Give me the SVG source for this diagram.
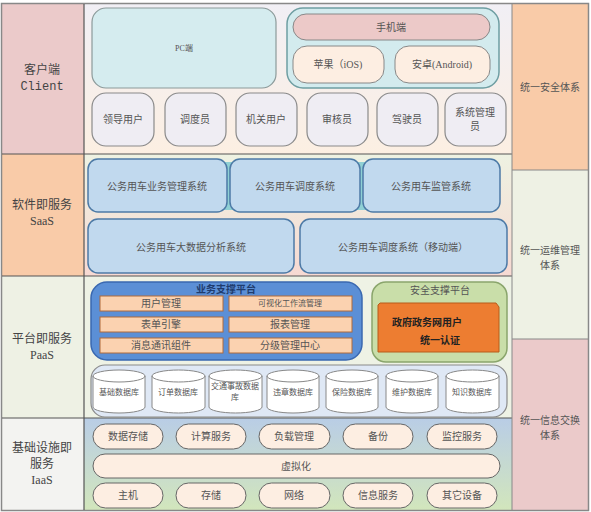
<svg xmlns="http://www.w3.org/2000/svg" width="591" height="512" viewBox="0 0 591 512">
<defs>
<linearGradient id="gClient" x1="0" y1="0" x2="0" y2="1"><stop offset="0" stop-color="#f1eff5"/><stop offset="1" stop-color="#fcefe2"/></linearGradient>
<linearGradient id="gSaas" x1="0" y1="0" x2="0" y2="1"><stop offset="0" stop-color="#eef2e2"/><stop offset="1" stop-color="#f7d9d2"/></linearGradient>
<linearGradient id="gIaas" x1="0" y1="0" x2="0" y2="1"><stop offset="0" stop-color="#b9cde6"/><stop offset="1" stop-color="#d2e6bc"/></linearGradient>
<style>
text{font-family:"Liberation Serif","Noto Sans CJK SC",serif;fill:#555;text-anchor:middle;dominant-baseline:central}
.sans{font-family:"Noto Sans CJK SC","Liberation Sans",sans-serif}
.lab{font-size:12px;fill:#444}
.sm{font-size:10px}
.xs{font-size:8px}
.user{fill:#efedf3;stroke:#8a8a8a;stroke-width:1.2}
.saas{fill:#c1d9ee;stroke:#4d7aa6;stroke-width:1.5}
.org{fill:#fbd2b0;stroke:#b06a3a;stroke-width:1}
.cyl{fill:#fff;stroke:#888;stroke-width:1}
.pill{fill:#fdeee2;stroke:#666;stroke-width:1}
.sep{stroke:#555;stroke-width:1.2}
</style>
</defs>
<!-- backgrounds -->
<rect x="0" y="0" width="591" height="512" fill="#fff"/>
<g id="left-col">
<rect x="2" y="4" width="82" height="150" fill="#ebcaca"/>
<rect x="2" y="154" width="82" height="122" fill="#f9cba8"/>
<rect x="2" y="276" width="82" height="142" fill="#eef1e4"/>
<rect x="2" y="418" width="82" height="92" fill="#f3f3f1"/>
<text class="lab" x="42" y="70">客户端</text>
<text class="lab" x="42" y="87" style="font-family:'Liberation Mono','Noto Sans CJK SC',monospace">Client</text>
<text class="lab" x="42" y="205">软件即服务</text>
<text class="lab" x="42" y="221">SaaS</text>
<text class="lab" x="42" y="339">平台即服务</text>
<text class="lab" x="42" y="355">PaaS</text>
<text class="lab" x="42" y="448">基础设施即</text>
<text class="lab" x="42" y="464">服务</text>
<text class="lab" x="42" y="480">IaaS</text>
</g>
<rect x="84" y="4" width="428" height="150" fill="url(#gClient)"/>
<rect x="84" y="154" width="428" height="122" fill="url(#gSaas)"/>
<rect x="84" y="276" width="428" height="142" fill="#eef2e5"/>
<rect x="84" y="418" width="428" height="92" fill="url(#gIaas)"/>
<g id="right-col">
<rect x="512" y="4" width="76" height="166" fill="#f9cba8"/>
<rect x="512" y="170" width="76" height="169" fill="#eef1e4"/>
<rect x="512" y="339" width="76" height="171" fill="#ebcaca"/>
<text class="sm" x="550" y="87">统一安全体系</text>
<text class="sm" x="550" y="250">统一运维管理</text>
<text class="sm" x="550" y="265">体系</text>
<text class="sm" x="550" y="420">统一信息交换</text>
<text class="sm" x="550" y="435">体系</text>
</g>
<!-- grid lines -->
<g id="grid" fill="none">
<rect x="1.5" y="3.5" width="587" height="507" stroke="#888" stroke-width="1.5"/>
<line class="sep" x1="2" y1="154" x2="512" y2="154"/>
<line class="sep" x1="2" y1="276" x2="512" y2="276"/>
<line class="sep" x1="2" y1="418" x2="512" y2="418"/>
<line class="sep" x1="84" y1="4" x2="84" y2="510"/>
<line x1="512" y1="4" x2="512" y2="510" stroke="#888" stroke-width="1"/>
<line x1="512" y1="170" x2="588" y2="170" stroke="#888" stroke-width="1"/>
<line x1="512" y1="339" x2="588" y2="339" stroke="#888" stroke-width="1"/>
</g>
<!-- client -->
<g id="pc"><rect x="92" y="8" width="184" height="80" rx="14" fill="#d5ecef" stroke="#8c9a9a" stroke-width="1.2"/><text class="xs" x="184" y="48">PC端</text></g>
<g id="mobile">
<rect x="287" y="8" width="212" height="80" rx="16" fill="#d3ebee" stroke="#6e9ea2" stroke-width="1.5"/>
<rect x="293" y="14" width="197" height="26" rx="13" fill="#ecc9c8" stroke="#888" stroke-width="1"/>
<text class="sm" x="391" y="27">手机端</text>
<rect x="293" y="46" width="91" height="37" rx="14" fill="#fdeee2" stroke="#888" stroke-width="1"/>
<text class="sm" x="338" y="64">苹果（iOS)</text>
<rect x="395" y="46" width="95" height="37" rx="14" fill="#fdeee2" stroke="#888" stroke-width="1"/>
<text class="sm" x="442" y="64">安卓(Android)</text>
</g>
<g id="users">
<rect class="user" x="92" y="93" width="62" height="53" rx="14"/><text class="sm" x="123" y="119">领导用户</text>
<rect class="user" x="165" y="93" width="61" height="53" rx="14"/><text class="sm" x="195" y="119">调度员</text>
<rect class="user" x="236" y="93" width="61" height="53" rx="14"/><text class="sm" x="266" y="119">机关用户</text>
<rect class="user" x="307" y="93" width="61" height="53" rx="14"/><text class="sm" x="337" y="119">审核员</text>
<rect class="user" x="377" y="93" width="61" height="53" rx="14"/><text class="sm" x="407" y="119">驾驶员</text>
<rect class="user" x="445" y="93" width="61" height="53" rx="14"/><text class="sm" x="475" y="112">系统管理</text><text class="sm" x="475" y="126">员</text>
</g>
<!-- saas -->
<g id="saas" class="sans">
<rect x="222" y="162" width="12" height="48" fill="#8fd0d4"/>
<rect x="356" y="162" width="12" height="48" fill="#8fd0d4"/>
<rect class="saas" x="88" y="159" width="139" height="53" rx="10"/><text class="sans sm" x="157" y="185">公务用车业务管理系统</text>
<rect class="saas" x="230" y="159" width="130" height="53" rx="10"/><text class="sans sm" x="295" y="185">公务用车调度系统</text>
<rect class="saas" x="363" y="159" width="137" height="53" rx="10"/><text class="sans sm" x="431" y="185">公务用车监管系统</text>
<rect class="saas" x="88" y="219" width="206" height="54" rx="10"/><text class="sans sm" x="191" y="246">公务用车大数据分析系统</text>
<rect class="saas" x="300" y="219" width="207" height="54" rx="10"/><text class="sans sm" x="403" y="246">公务用车调度系统（移动端）</text>
</g>
<!-- paas -->
<g id="biz-platform">
<rect x="91" y="282" width="271" height="78" rx="16" fill="#5b8fd6" stroke="#3a68b0" stroke-width="1.5"/>
<text class="sm" x="226" y="289" style="fill:#1f3c6e;font-weight:bold">业务支撑平台</text>
<rect class="org" x="100" y="296" width="123" height="15"/><text class="sm" x="161" y="303.5">用户管理</text>
<rect class="org" x="229" y="296" width="123" height="15"/><text class="xs" x="290" y="303.5">可视化工作流管理</text>
<rect class="org" x="100" y="317" width="123" height="15"/><text class="sm" x="161" y="324.5">表单引擎</text>
<rect class="org" x="229" y="317" width="123" height="15"/><text class="sm" x="290" y="324.5">报表管理</text>
<rect class="org" x="100" y="338" width="123" height="15"/><text class="sm" x="161" y="345.5">消息通讯组件</text>
<rect class="org" x="229" y="338" width="123" height="15"/><text class="sm" x="290" y="345.5">分级管理中心</text>
</g>
<g id="sec-platform">
<rect x="372" y="282" width="135" height="80" rx="14" fill="#c9dea9" stroke="#8aa56c" stroke-width="1.5"/>
<text class="sm" x="440" y="290">安全支撑平台</text>
<path d="M380 303 H496 L499 307 V352 H378 V305 Z" fill="#ed7d31" stroke="#b85c1a" stroke-width="1"/>
<text class="sm" x="427" y="322" style="fill:#222;font-weight:bold">政府政务网用户</text>
<text class="sm" x="440" y="340" style="fill:#222;font-weight:bold">统一认证</text>
</g>
<g id="databases">
<rect x="91" y="365" width="416" height="52" rx="14" fill="#dfe8f5" stroke="#8a8a8a" stroke-width="1.2"/>
<g class="cyl-set">
<path class="cyl" d="M93 376 V407 A26 6 0 0 0 145 407 V376 A26 6 0 0 0 93 376 A26 6 0 0 0 145 376"/><text class="xs" x="119" y="392">基础数据库</text>
<path class="cyl" d="M152 376 V407 A26.5 6 0 0 0 205 407 V376 A26.5 6 0 0 0 152 376 A26.5 6 0 0 0 205 376"/><text class="xs" x="178" y="392">订单数据库</text>
<path class="cyl" d="M209 376 V407 A26.5 6 0 0 0 262 407 V376 A26.5 6 0 0 0 209 376 A26.5 6 0 0 0 262 376"/><text class="xs" x="235" y="386">交通事故数据</text><text class="xs" x="235" y="397">库</text>
<path class="cyl" d="M267 376 V407 A26 6 0 0 0 319 407 V376 A26 6 0 0 0 267 376 A26 6 0 0 0 319 376"/><text class="xs" x="293" y="392">违章数据库</text>
<path class="cyl" d="M326 376 V407 A26 6 0 0 0 378 407 V376 A26 6 0 0 0 326 376 A26 6 0 0 0 378 376"/><text class="xs" x="352" y="392">保险数据库</text>
<path class="cyl" d="M386 376 V407 A26 6 0 0 0 438 407 V376 A26 6 0 0 0 386 376 A26 6 0 0 0 438 376"/><text class="xs" x="412" y="392">维护数据库</text>
<path class="cyl" d="M446 376 V407 A26.5 6 0 0 0 499 407 V376 A26.5 6 0 0 0 446 376 A26.5 6 0 0 0 499 376"/><text class="xs" x="472" y="392">知识数据库</text>
</g>
</g>
<!-- iaas -->
<g id="iaas">
<rect class="pill" x="93" y="424" width="70" height="25" rx="12.5"/><text class="sm" x="128" y="436.5">数据存储</text>
<rect class="pill" x="176" y="424" width="70" height="25" rx="12.5"/><text class="sm" x="211" y="436.5">计算服务</text>
<rect class="pill" x="259" y="424" width="71" height="25" rx="12.5"/><text class="sm" x="294" y="436.5">负载管理</text>
<rect class="pill" x="343" y="424" width="70" height="25" rx="12.5"/><text class="sm" x="378" y="436.5">备份</text>
<rect class="pill" x="427" y="424" width="70" height="25" rx="12.5"/><text class="sm" x="462" y="436.5">监控服务</text>
<rect class="pill" x="93" y="454" width="407" height="24" rx="12"/><text class="sm" x="296" y="466">虚拟化</text>
<rect class="pill" x="93" y="483" width="70" height="25" rx="12.5"/><text class="sm" x="128" y="495.5">主机</text>
<rect class="pill" x="176" y="483" width="70" height="25" rx="12.5"/><text class="sm" x="211" y="495.5">存储</text>
<rect class="pill" x="259" y="483" width="71" height="25" rx="12.5"/><text class="sm" x="294" y="495.5">网络</text>
<rect class="pill" x="343" y="483" width="70" height="25" rx="12.5"/><text class="sm" x="378" y="495.5">信息服务</text>
<rect class="pill" x="427" y="483" width="70" height="25" rx="12.5"/><text class="sm" x="462" y="495.5">其它设备</text>
</g>
</svg>
